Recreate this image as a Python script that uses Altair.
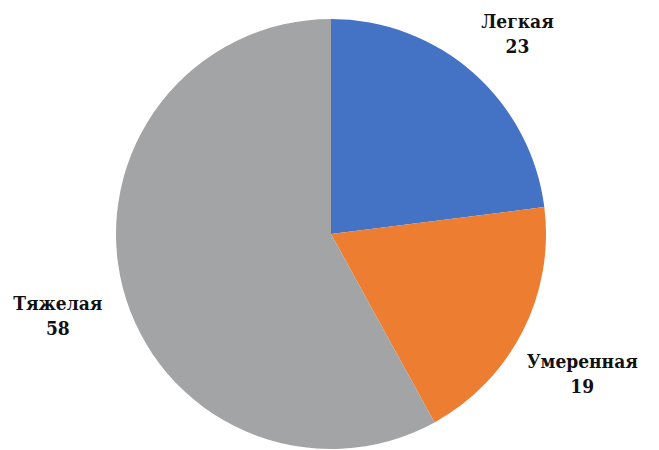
import altair as alt
import pandas as pd

categories = ["Легкая", "Умеренная", "Тяжелая"]
values = [23, 19, 58]
colors = ["#4472C4", "#ED7D31", "#A3A4A6"]

df = pd.DataFrame({
    "cat": categories,
    "val": values,
    "order": list(range(len(categories))),
    "label": [f"{c}\n{v}" for c, v in zip(categories, values)],
})

cx, cy = 323, 226

base = alt.Chart(df).encode(
    theta=alt.Theta("val:Q", stack=True),
    order=alt.Order("order:Q"),
    x=alt.value(cx),
    y=alt.value(cy),
)

pie = base.mark_arc(radius=215, stroke=None).encode(
    color=alt.Color("cat:N", scale=alt.Scale(domain=categories, range=colors), legend=None)
)

text = base.mark_text(
    radius=282, font="DejaVu Serif Condensed", fontWeight="bold", fontSize=19,
    lineBreak="\n", lineHeight=25, align="center", baseline="middle", color="#111111"
).encode(text="label:N")

chart = (pie + text).properties(
    width=643, height=442, padding=0, autosize=alt.AutoSizeParams(type="none")
).configure_view(stroke=None)

chart.save("out.html", embed_options={"renderer": "svg", "actions": False})
